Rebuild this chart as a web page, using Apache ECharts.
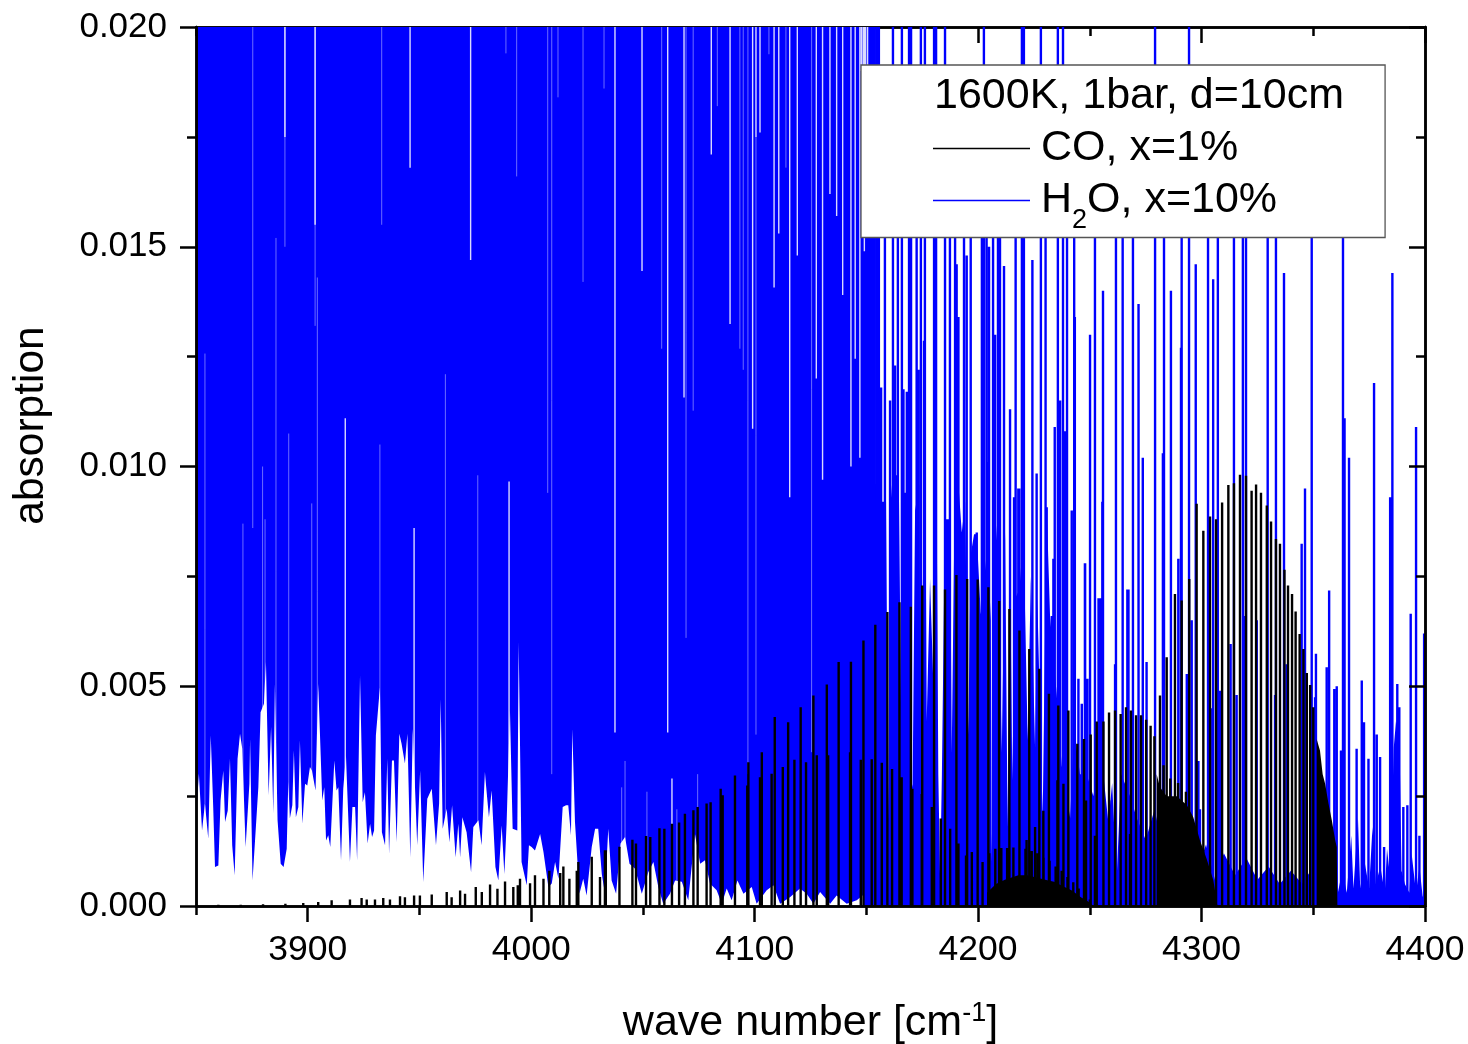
<!DOCTYPE html>
<html><head><meta charset="utf-8">
<style>html,body{margin:0;padding:0;background:#fff}#c{width:1468px;height:1044px}</style>
<script src="https://cdn.jsdelivr.net/npm/echarts@6/dist/echarts.min.js"></script>
</head><body><div id="c"></div>
<script>
const xTicks=[3900,4000,4100,4200,4300,4400];
const yTicks=[0,0.005,0.010,0.015,0.020];
// lower edge of the saturated H2O forest
const edgeX=[3850,3851.3,3852.7,3854,3855.5,3856.6,3857.7,3858.5,3860,3861,3862.2,3863,3864.2,3865.2,3866.2,3867.3,3868.6,3869.7,3870.7,3872.2,3873.9,3874.2,3875.3,3876.7,3877.9,3878.9,3880.4,3881.3,3882.5,3883.6,3884.6,3885.3,3886.5,3887.9,3889.2,3890.6,3891.3,3892,3893.1,3893.8,3894.7,3895.8,3896.5,3897.6,3898.8,3899.8,3901,3901.9,3903.5,3904.7,3906.5,3907.4,3908.2,3909.2,3910.1,3911.9,3912.9,3913.7,3914.9,3915.9,3917.1,3918.9,3920,3921.2,3922.1,3923.4,3924.6,3925.6,3926.8,3927.9,3928.8,3929.7,3930.5,3932.3,3933.2,3934.6,3935.6,3936.4,3937.7,3938.6,3939.8,3941,3942,3943.5,3944.6,3945.9,3947,3949,3950.3,3951.7,3953.5,3955.5,3957.4,3958.8,3959.5,3960.4,3962.2,3963.4,3964.6,3966.2,3967.4,3968.2,3969.2,3970,3971.1,3973.1,3974.1,3976.4,3977.8,3979.3,3979.8,3981.1,3982.3,3984,3985.3,3986.8,3988,3989,3990.5,3991.7,3992.5,3993.8,3994.4,3995.7,3998,3999,4000.2,4001.7,4004,4005.5,4007.7,4009.2,4010.7,4012.2,4014.1,4015.6,4016.6,4017.8,4018.4,4019.6,4021.6,4023.3,4024.8,4027.1,4028.6,4030,4031.6,4033,4034.5,4036,4038,4040,4042,4044,4046.5,4049.5,4052.4,4054.7,4056.9,4059.1,4062.1,4064.4,4067.4,4070.3,4073.3,4075.6,4077.8,4080,4083,4085.3,4087.5,4089.7,4092.3,4095,4098.7,4100.9,4105.4,4108.4,4111.4,4115.8,4120.3,4123.3,4126.3,4129.3,4133.8,4136.7,4141.2,4145.7,4150.2,4150.7,4152,4154.3];
const edgeY=[20.2,30.1,17.2,23.3,15.3,38.8,22.5,8.9,9.2,24,30.8,19.1,21.7,33.5,13.8,7,33.5,39.2,35.8,13.4,27.8,38,5.8,17.2,27,44.1,46,55.5,25.2,40.7,21,50.5,19.5,9.6,8.9,13,28.2,19.9,22.9,35.4,20.2,22.5,37.7,18.7,27.8,27.4,31.6,30.8,26.3,50.5,24,27,14.9,16.1,13.4,33.1,26.3,27,10.4,26.7,34.3,10,22.5,22.5,10.4,52.4,23.6,25.9,14.2,18.7,15.7,17.2,38.8,49.8,16.8,13.8,33.5,11.9,33.1,33.1,14.5,39.2,36.9,32.4,39.2,11.1,40.3,13.8,30.8,5.4,24.4,26.7,13.8,23.3,47.1,17.6,22.1,14.5,22.9,11.1,18.7,11.1,20.2,19.9,16.8,7.7,18,19.5,13.8,30.5,27.4,20.2,26.3,8.9,5.8,18.3,7.3,18.7,44.5,17.6,17.2,17.2,60,10,4.7,13.8,13.4,12.6,16.4,12.3,4.3,5.1,10,6.2,22.5,22.9,22.9,16.1,40.3,19.1,2.8,6.2,2.4,13.4,17.6,17.6,7.3,2.8,17.6,5.8,2.8,14.2,15.7,9.6,8.5,2.8,7.7,10,4.3,0.5,2.8,5.8,5.5,1.3,16.4,9.6,10.4,5.1,3.6,0.5,4,1.3,5.8,2.8,4.3,0.5,3.6,4.7,0.5,2,4,2.8,0.5,3.2,0.5,2.4,0.5,1.3,3.2,0.5,1,0.5];
// upper edge of the dense H2O body above 4148 cm-1, and the low grass to 4400
const bodyX=[4148.7,4149.7,4150.5,4154.3,4154.9,4155.4,4156.4,4158.8,4159.8,4160.6,4161.8,4164.5,4165.5,4166.6,4168.4,4169.2,4170.7,4171.8,4173.7,4174.3,4175.8,4176.7,4177,4178.5,4180,4181.5,4182.2,4183,4183.8,4185.2,4187.5,4188.2,4189.7,4191.2,4192.7,4194.2,4195.6,4196.7,4198.2,4199.4,4201.2,4204.2,4205.7,4206.1,4207.6,4209.1,4210.6,4212.1,4213.2,4214.3,4215.3,4216.6,4218.5,4220.3,4222.2,4223.6,4225.5,4226.5,4228.9,4230.7,4232.2,4235.2,4237.4,4241.2,4243,4245.6,4248.6,4251.6,4255,4258.3,4260,4262,4264,4268,4271,4275,4279,4283,4287,4290,4294,4298,4302,4306,4310,4315,4320,4325,4330,4335,4340,4345,4350,4355,4358,4360,4361,4363,4365,4367,4368,4370,4371,4373,4375,4376.5,4378,4380,4382,4383,4384.5,4386,4387,4388.5,4389.5,4391,4393,4394,4396,4397.5,4399,4400];
const bodyY=[88,79.7,96,96,46,77.4,92,92,19.5,90,98,98,46,94,94,31,27,90,96,18,100,70.2,42,74.4,50,88.4,30,6,30,88,88,34.7,100,96,85,92,39,80,84.6,84.6,66.4,82,65,9.7,90,78,35,85,18,80,28.6,70,72,85,37.7,75,36,70,20,90.7,66,48,32,20,40,30,30,25,35,19,28,6,30,25,20,15,22,12,18,10,16,8,14,6,12,7,11,6,9,5,8,5,9,6,10,6,3,8,3,16,4,20,4,10,4,18,5,9,3,13,6,36,42,40,8,5,3,12,3,9,2,6];
// individual H2O lines (position, peak height; 200 = runs off the top)
const lineX=[4151.6,4154.7,4155.6,4161.9,4165.9,4169.1,4170,4174.4,4176.2,4180.3,4181.2,4185.2,4202.6,4219.6,4220.5,4228.1,4235.7,4238,4279.2,4294.4,
4158.3,4164.1,4172.5,4187.4,4189.7,4193.7,4196.7,4203.8,4206.7,4208.9,4209.8,4216.8,4230.2,4239.8,4243,4252.3,4261.7,4264.7,4269.3,4283.2,4291.1,4302.9,4307.3,4314.5,4318.5,4319.9,4329.6,4333.3,4349.3,4363.3,
4255.9,4243.3,4194.9,4201.7,4204.9,4297.4,4336.9,4211.6,4224.3,4220.3,4250.1,4271.8,4273.7,4236.7,4234.3,4238.9,4226.2,4247.9,4255.6,4214.3,4218.4,4216.1,4204.6,4199.4,4156.6,4160.6,4166.6,4168.1,4175.8,4173.3,4267.3,4241.9,4233,4253.9,4207.6,4190.4,4191.2,4162.8,
4282.7,4286.3,4290.8,4305.2,4346.3,4364,4366,4377.2,4384.4,4385.4,4396,
4216.5,4218,4226.2,4230.7,4233.7,4238.2,4241.9,4247.8,4254.6,4255.8,4261.3,4266.8,4275.4,4248.9,4244.9,4246.4,4289.6,4295.6,4293.4,4304.1,4308.3,4313,4315.7,4298.6,4299.3,4257.5,4259.8,4324.7,4318,4319.5,4332.9,4338.1,4350.8,
4362.4,4369.4,4371.7,4372.7,4374.7,4378.4,4379.9,4381.7,4387.6,4388.5,4390.3,4392.1,4393.6,4397.5,4399.6,4360.5,4357.1,4356,4359.4,4351.2,4344.8];
const lineY=[200,200,200,200,200,200,200,200,200,200,200,200,200,200,200,200,200,200,200,200,
170,170,170,170,170,170,170,170,170,170,170,170,170,170,170,170,170,170,170,170,170,170,170,170,170,170,170,170,170,170,
140,134,148,155,150,146,144,145.6,147,151,130,137,102,115,109,108,98,78,92,113,95,93,101,85,118,115,117.6,117,128.6,122,72,90,66,70,130,146,134,123,
103,140,127,142.6,95,111,102,119,93,144,109,
92.6,95,98.4,90.7,79,86.5,90,78,70,92,55,72,55.5,51.7,51.7,46,79,65,52.8,45,49,59.6,48,33,22,18.7,24,65,9,66,48,55,47.5,
35.4,35.8,51.3,41.8,33.5,39,33.9,13.4,50.5,45.2,22.5,22.9,66.5,16,62,50,71.8,54.3,49.4,57.4,82.4];
// gaps in the H2O forest: position, bottom, top of the gap
const faintX=[3854,3871,3875.4,3879.8,3880.9,3885.8,3889.8,3891.5,3901.8,3903.3,3904.3,3932.3,3933.1,3961.6,3976.1,3988.7,3993.5,4007.4,4009.2,4012,4023.2,4032.6,4058.4,4093.4,4094.9,4097,4106.4,4114,4125.5,4069.3,4072.5,4083.3,4100.6,4042,4040.5,4051.8,4065.2,4074.5];
const faintLow=[0,0,86,0,0,0,150,0,0,132,0,0,155,0,0,194,166,94,30,184,142,186,126.8,126.8,122,30,193.8,168,35,61,112.7,182,39,0,0,0,0,0];
const faintHigh=[125.7,87,200,100,88,152,200,107.5,91.6,200,143,105,200,121,98,200,200,200,200,200,200,200,200,200,200,200,200,200,200,200,200,200,175,33,27,26,22,30];
const brightX=[3889.8,3916.8,3903.3,3945.8,3947.6,3972.9,3990.1,4037.5,4049.6,4061.1,4063,4068.4,4080.6,4089,4099.1,4100.6,4102.4,4108.7,4110.8,4115.7,4119.1,4127.6,4130.4,4133.7,4136.7,4139.4,4143.1,4145,4147.1,4149.1,4147.8,4148.6,4149.7,4150.6];
const brightLow=[175,0,155,168,0,147,0,39.5,144.5,39.5,0,115.7,171,132.4,108.6,175,176,140.7,153,93,148,120,97,162,157,139,100,124.5,102,149,190,190,190,190];
const brightHigh=[200,111,200,200,86,200,96.6,200,200,200,29,200,200,200,200,200,200,200,200,200,200,200,200,200,200,200,200,200,200,200,200,200,200,200];
// CO lines
const coX=[3860,3870,3880,3890,3898,3904.7,3910.7,3918.9,3924.1,3926.4,3930.1,3933.8,3936.8,3941.3,3943.5,3947.6,3950.2,3955.5,3962.2,3964.4,3968.2,3970.4,3975.2,3977.9,3981.6,3984.9,3988.3,3992,3994,3995,3999.5,4001.7,4005.5,4008.1,4013,4014.4,4017.1,4020.4,4021.1,4027.1,4030.8,4033.4,
4033,4039.5,4045.3,4046.9,4051.4,4053.3,4057.4,4059.6,4063,4066.2,4068.8,4072.6,4074.5,4078.5,4080.3,4084.8,4085.7,
4091.2,4097.2,4103.2,4109,4115,4120.6,4126.3,4132.3,4137.6,4143.1,4148.7,4154,4159.4,4164.8,4169.9,4175,4180.3,4185.2,4190.3,4195.1,4199.8,4204.6,4209.4,
4096.7,4102.4,4107.6,4112.6,4117.8,4123,4127.8,4132.9,4142.7,4147.5,4152.4,4156.9,4161.5,4165.8,4170.6,4174.8,4179.3,4183.3,4187.5,4191.2,4194.6,4197.2,
4202,4205,4207.7,4210.4,4213,4215.8,4218.5,4221.2,4224,4226.6,4229.3,4232,4234.7,4237.4,4240,4242.6,4245,4247.6,4250,
4214,4218.5,4222.9,4227.4,4231.7,4235.9,4240.4,4244.4,4247.4,4250.4,4253.1,4256.1,4258.6,4261.3,4263.8,4266.2,4268.4,4270.7,4272.9,4275.2,4277.2,4278.9,
4221.7,4225.5,4229.2,4235.5,4238.2,4248.3,4252.3,4268,4283,4286,4289.5,4293,
4281.4,4284.4,4288.1,4291.1,4294.5,4297.8,4300.8,4303.8,4306.5,4309.2,4312,4314.5,4317.2,4319.9,4322.4,4324.4,4326.6,4329.2,4331.1,4333.3,4335.1,4337.1,4338.7,4340.5,4342.1,4343.9,4345.6,4347.1,4348.6,4350];
const coY=[0.3,0.3,0.4,0.5,0.7,0.9,1.3,1.5,1.8,1.5,1.5,1.8,1.5,2.2,2,2.4,2.4,2.6,3.2,2,3.5,2.8,4.3,3.2,4.9,3.9,5.6,4.3,4.7,6.2,5.2,7,6.2,8,7.5,9,6.2,8,10,11.2,6.6,12.7,
12.7,13.5,15.1,14.2,15.9,15.7,17.7,17.6,18.7,19,21,21.8,22.5,23.3,23.6,26.7,25.2,
29.7,32.7,35,43,41.8,45.2,47.9,50.4,55.5,55.6,60.4,64,66.9,69.1,68.1,72.9,72.9,72,75.3,74.4,74.3,72.5,69.4,
27.4,29.3,30.1,31.6,33.3,32.7,34.3,34.3,35,33.3,33.4,32.6,31.2,29.3,26.7,25.5,22.5,19.9,17.6,14.2,11.5,12.3,
10,12,13,13.2,13.2,13.3,13.2,13,12.5,12,11,10.3,9,8,6.6,5.4,4,2.8,1.5,
67.6,62.7,58.5,54,48.3,45.6,44.5,36.9,38,39,42,42,44,44.5,43.7,45.2,44.5,43.4,43.4,42.4,41,38.6,
15,18,21.7,28.6,27.8,24,16,16.4,32,29,28,26,
47.9,56.6,71,69.5,74.4,91.5,85.4,88.6,88,91.8,95.8,96.2,98.1,97.9,94.5,95.9,94,91.1,87.5,83.5,82.4,76.5,72.9,71,67,61.9,58.5,53,50.3,45.2];
// merged CO band heads drawn solid
const coHeadAX=[4351.5,4353,4354.2,4355.3,4356.8,4358.3,4359.8,4360.5,4360.8];
const coHeadAY=[38,35.4,30,27.8,23.3,19.5,15,13.4,0];
const coHeadBX=[4279.9,4281.4,4284.4,4288.9,4293.4,4296.3,4299.3,4302.3,4305.3,4307.1];
const coHeadBY=[30,27,25,25,23,20.2,14.9,10.7,5.8,0];
const coHeadCX=[4204,4208,4212,4218,4222,4226,4230,4234,4238,4242,4246,4250,4251.6];
const coHeadCY=[3,5,6,7,7,6.5,6,5.5,4.5,3.5,2,0.8,0];

const SCALE=1e-4;
const pairs=(xs,ys)=>xs.map((x,i)=>[x,ys[i]*SCALE]);
const sticks=(xs,lows,highs)=>xs.flatMap((x,i)=>[[x,lows?lows[i]*SCALE:0],[x,highs[i]*SCALE],[x,null]]);
const H2O='H2O, x=10%',CO='CO, x=1%';
const BLUE='#0000ff';
const base={type:'line',showSymbol:false,symbol:'none',silent:true,animation:false,connectNulls:false};
const font='"Liberation Sans",Arial,sans-serif';
const heads=[[coHeadAX,coHeadAY],[coHeadBX,coHeadBY],[coHeadCX,coHeadCY]].map(([a,b])=>({...base,name:CO,z:8,
  data:[[a[0],0],...pairs(a,b)],lineStyle:{width:0,color:'#000'},itemStyle:{color:'#000'},areaStyle:{color:'#000',opacity:1,origin:'start'}}));

const axisCommon={min:3850,max:4400,type:'value',splitLine:{show:false},axisLine:{show:true,onZero:false,lineStyle:{color:'#000',width:2.5}}};
const yCommon={min:0,max:0.02,type:'value',splitLine:{show:false},axisLine:{show:true,onZero:false,lineStyle:{color:'#000',width:2.5}}};
const tick=(len,inside,custom)=>({show:true,length:len,inside,lineStyle:{color:'#000',width:2.5},...(custom?{customValues:custom}:{})});

const option={
  animation:false,backgroundColor:'#fff',
  grid:{left:196,right:43,top:27,bottom:138,containLabel:false,outerBoundsMode:'none'},
  title:{text:'1600K, 1bar, d=10cm',left:929,top:70,z:30,textStyle:{fontFamily:font,fontSize:43,fontWeight:'normal',color:'#000'}},
  legend:{show:true,left:861,top:65,z:20,orient:'vertical',align:'left',selectedMode:false,
    data:[{name:CO,icon:'rect'},{name:H2O,icon:'rect'}],itemWidth:97,itemHeight:1.5,itemGap:9,
    padding:[62,108,3,72],backgroundColor:'#fff',borderColor:'#555',borderWidth:1.3,borderRadius:0,
    itemStyle:{borderWidth:0},
    formatter:n=>n===H2O?'{a|H}{s|2}{o|O, x=10%}':'{a|CO, x=1%}',
    textStyle:{fontFamily:font,color:'#000',rich:{
      a:{fontFamily:font,fontSize:43,color:'#000',lineHeight:44,padding:[0,0,0,6]},
      o:{fontFamily:font,fontSize:43,color:'#000',lineHeight:44},
      s:{fontFamily:font,fontSize:27,color:'#000',verticalAlign:'bottom',lineHeight:27,padding:[0,0,-12,0]}}}},
  xAxis:[
    {...axisCommon,position:'bottom',z:10,interval:50,axisTick:tick(9,false),axisLabel:{show:false},
     name:'{a|wave number [cm}{b|-1}{a|]}',nameLocation:'middle',nameGap:94,
     nameTextStyle:{fontFamily:font,rich:{a:{fontFamily:font,fontSize:43,color:'#000',lineHeight:46},b:{fontFamily:font,fontSize:27,color:'#000',verticalAlign:'top',lineHeight:27}}}},
    {...axisCommon,position:'bottom',z:10,interval:50,axisTick:tick(16,false,xTicks),
     axisLabel:{show:true,customValues:xTicks,margin:26,fontFamily:font,fontSize:35.5,color:'#000',formatter:v=>String(v)}},
    {...axisCommon,position:'top',z:1,interval:50,axisTick:tick(9,true),axisLabel:{show:false}},
    {...axisCommon,position:'top',z:1,interval:50,axisTick:tick(16,true,xTicks),axisLabel:{show:false}}
  ],
  yAxis:[
    {...yCommon,position:'left',z:10,interval:0.0025,axisTick:tick(9,false),axisLabel:{show:false},
     name:'absorption',nameLocation:'middle',nameGap:143,nameTextStyle:{fontFamily:font,fontSize:42.5,color:'#000',padding:[0,0,0,82]}},
    {...yCommon,position:'left',z:10,interval:0.0025,axisTick:tick(16,false,yTicks),
     axisLabel:{show:true,customValues:yTicks,margin:29,fontFamily:font,fontSize:35,color:'#000',formatter:v=>v.toFixed(3)}},
    {...yCommon,position:'right',z:10,interval:0.0025,axisTick:tick(9,true),axisLabel:{show:false}},
    {...yCommon,position:'right',z:10,interval:0.0025,axisTick:tick(16,true,yTicks),axisLabel:{show:false}}
  ],
  series:[
    {...base,name:CO,z:9,data:sticks(coX,null,coY),lineStyle:{color:'#000',width:2.4},itemStyle:{color:'#000'}},
    {...base,name:H2O,z:5,data:sticks(lineX,null,lineY),lineStyle:{color:BLUE,width:2.4},itemStyle:{color:BLUE}},
    {...base,name:H2O,z:3,data:pairs(edgeX,edgeY),lineStyle:{width:0,color:BLUE},itemStyle:{color:BLUE},areaStyle:{color:BLUE,opacity:1,origin:'end'}},
    {...base,name:H2O,z:3,data:pairs(bodyX,bodyY),lineStyle:{width:0,color:BLUE},itemStyle:{color:BLUE},areaStyle:{color:BLUE,opacity:1,origin:'start'}},
    {...base,name:'H2O gaps faint',z:4,data:sticks(faintX,faintLow,faintHigh),lineStyle:{color:'#fff',width:1,opacity:0.42}},
    {...base,name:'H2O gaps bright',z:4,data:sticks(brightX,brightLow,brightHigh),lineStyle:{color:'#fff',width:1.4,opacity:0.85}},
    ...heads
  ]
};
const chart=echarts.init(document.getElementById('c'),null,{renderer:'canvas'});
chart.setOption(option);
</script></body></html>
